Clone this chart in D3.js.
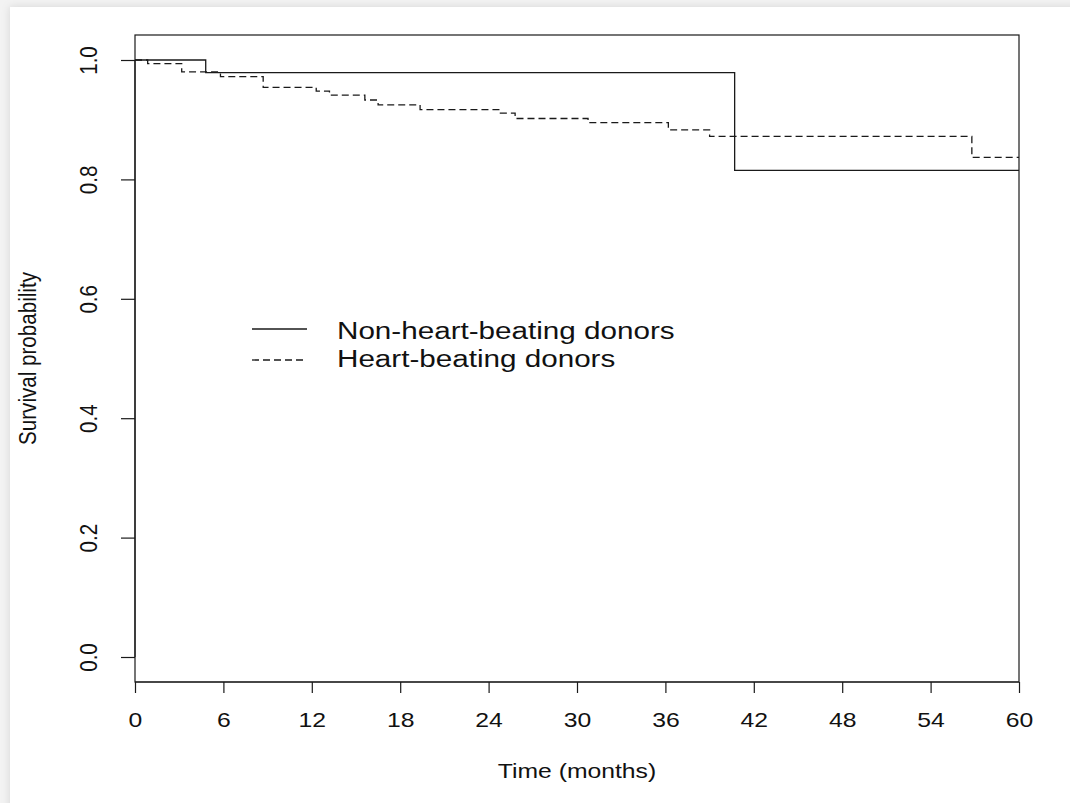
<!DOCTYPE html>
<html>
<head>
<meta charset="utf-8">
<script src="https://cdn.jsdelivr.net/npm/d3@7"></script>
<style>
  html, body { margin: 0; padding: 0; background: #fff; }
  svg { display: block; }
  text { font-family: Arial, "Liberation Sans", sans-serif; fill: #111; }
</style>
</head>
<body>
<svg id="chart" width="1070" height="803"></svg>
<script>
// ---- data ----
const xTicks = [0, 6, 12, 18, 24, 30, 36, 42, 48, 54, 60];
const yTicks = [0.0, 0.2, 0.4, 0.6, 0.8, 1.0];
const yTickLabels = ["0.0", "0.2", "0.4", "0.6", "0.8", "1.0"];

const seriesNames = ["Non-heart-beating donors", "Heart-beating donors"];

// Non-heart-beating donors: step times (months) and survival after each step
const nhbTimes = [0, 4.8, 40.7];
const nhbSurv  = [1.0, 0.979, 0.815];

// Heart-beating donors
const hbTimes = [0, 0.86, 3.17, 5.8, 8.7, 12.3, 13.2, 15.6, 16.5, 19.35, 24.8, 25.8, 30.75, 36.2, 39.0, 56.8];
const hbSurv  = [1.0, 0.994, 0.980, 0.972, 0.954, 0.948, 0.941, 0.933, 0.925, 0.917, 0.911, 0.902, 0.895, 0.883, 0.872, 0.837];

const xLabel = "Time (months)";
const yLabel = "Survival probability";
const tMax = 60;

// ---- layout ----
const svg = d3.select("#chart");
const W = 1070, H = 803;
const box = { left: 135, right: 1019, top: 35, bottom: 682 };
const SX = 1.2;          // horizontal stretch of the glyphs in the reference
const fs = 20.6;

// page background with soft frame
const defs = svg.append("defs");
const f = defs.append("filter").attr("id", "sh").attr("x", "-5%").attr("y", "-5%").attr("width", "110%").attr("height", "110%");
f.append("feDropShadow").attr("dx", 0).attr("dy", 0).attr("stdDeviation", 4)
  .attr("flood-color", "#000").attr("flood-opacity", 0.13);
svg.append("rect").attr("width", W).attr("height", H).attr("fill", "#f3f3f3");
svg.append("rect").attr("x", 10).attr("y", 7).attr("width", W + 20).attr("height", H + 20)
  .attr("fill", "#fff").attr("filter", "url(#sh)");

const x = d3.scaleLinear().domain([0, 60]).range([135, 1019]);
const y = d3.scaleLinear().domain([0, 1]).range([657, 60]);

const ink = "#1a1a1a";

// plot box
svg.append("rect")
  .attr("x", box.left).attr("y", box.top)
  .attr("width", box.right - box.left).attr("height", box.bottom - box.top)
  .attr("fill", "none").attr("stroke", ink).attr("stroke-width", 1.2);

// x axis
const xAxis = d3.axisBottom(x).tickValues(xTicks).tickSize(11).tickSizeOuter(0).tickFormat(d3.format("d"));
const gx = svg.append("g").attr("transform", `translate(0,${box.bottom})`).call(xAxis);
gx.select(".domain").attr("stroke", ink).attr("stroke-width", 1.2)
  .attr("d", `M${x(0)},0H${x(60)}`);
gx.selectAll(".tick line").attr("stroke", ink).attr("stroke-width", 1.2);
gx.selectAll(".tick text")
  .attr("y", null).attr("dy", null)
  .attr("font-size", fs).attr("fill", "#111")
  .attr("font-family", "Arial, 'Liberation Sans', sans-serif")
  .attr("text-anchor", "middle")
  .attr("transform", `translate(0,45) scale(${SX},1)`);

// y axis
const yAxis = d3.axisLeft(y).tickValues(yTicks).tickSize(14).tickSizeOuter(0)
  .tickFormat((d, i) => yTickLabels[i]);
const gy = svg.append("g").attr("transform", `translate(${box.left},0)`).call(yAxis);
gy.select(".domain").attr("stroke", ink).attr("stroke-width", 1.2)
  .attr("d", `M0,${y(0)}V${y(1)}`);
gy.selectAll(".tick line").attr("stroke", ink).attr("stroke-width", 1.2);
gy.selectAll(".tick text")
  .attr("x", null).attr("dy", null)
  .attr("font-size", fs).attr("fill", "#111")
  .attr("font-family", "Arial, 'Liberation Sans', sans-serif")
  .attr("text-anchor", "middle")
  .attr("transform", `translate(-38,0) scale(${SX},1) rotate(-90)`);

// axis titles
svg.append("text")
  .attr("transform", `translate(${(box.left + box.right) / 2},778) scale(${SX},1)`)
  .attr("text-anchor", "middle").attr("font-size", fs).text(xLabel);
svg.append("text")
  .attr("transform", `translate(36,${(box.top + box.bottom) / 2}) scale(${SX},1) rotate(-90)`)
  .attr("text-anchor", "middle").attr("font-size", fs).text(yLabel);

// step curves
function stepPoints(times, surv) {
  const pts = times.map((t, i) => [t, surv[i]]);
  pts.push([tMax, surv[surv.length - 1]]);
  return pts;
}
const line = d3.line().x(d => x(d[0])).y(d => y(d[1])).curve(d3.curveStepAfter);

svg.append("path").datum(stepPoints(nhbTimes, nhbSurv))
  .attr("d", line).attr("fill", "none").attr("stroke", ink).attr("stroke-width", 1.3);
svg.append("path").datum(stepPoints(hbTimes, hbSurv))
  .attr("d", line).attr("fill", "none").attr("stroke", ink).attr("stroke-width", 1.3)
  .attr("stroke-dasharray", "7,4");

// legend
const legend = [
  { name: seriesNames[0], dash: null, ly: 329, ty: 338.5 },
  { name: seriesNames[1], dash: "7,4", ly: 360, ty: 367 }
];
const lg = svg.append("g");
legend.forEach(l => {
  lg.append("line").attr("x1", 252).attr("x2", 307).attr("y1", l.ly).attr("y2", l.ly)
    .attr("stroke", ink).attr("stroke-width", 1.3)
    .attr("stroke-dasharray", l.dash);
  lg.append("text")
    .attr("transform", `translate(337,${l.ty}) scale(${SX},1)`)
    .attr("font-size", 24.7).text(l.name);
});
</script>
</body>
</html>
